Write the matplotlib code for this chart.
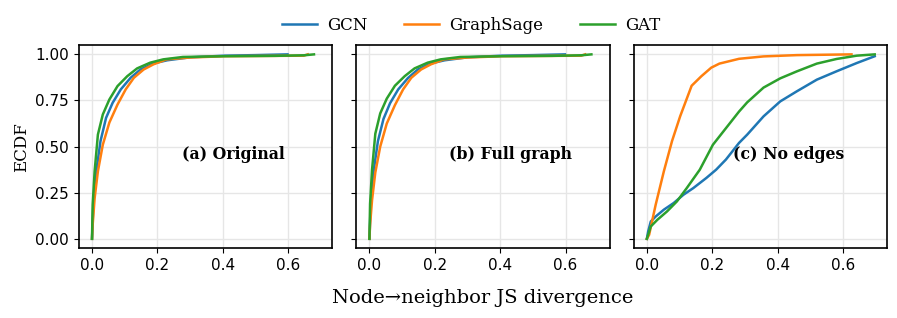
#!/usr/bin/env python3

import matplotlib
matplotlib.use("Agg")
import matplotlib.pyplot as plt
import numpy as np

MODELS = ["GCN", "GraphSage", "GAT"]
COLORS = ["#1f77b4", "#ff7f0e", "#2ca02c"]
PANELS = ["(a) Original", "(b) Full graph", "(c) No edges"]

# ECDF points: (JS divergence, cumulative fraction)
orig_gcn_x = [0.0, 0.004, 0.013, 0.026, 0.043, 0.063, 0.088, 0.118, 0.148, 0.188, 0.23, 0.3, 0.406, 0.5, 0.598]
orig_gcn_y = [0.0, 0.185, 0.366, 0.53, 0.656, 0.737, 0.81, 0.873, 0.918, 0.951, 0.968, 0.984, 0.993, 0.996, 1.0]
orig_sage_x = [0.0, 0.002, 0.008, 0.018, 0.033, 0.053, 0.078, 0.103, 0.128, 0.158, 0.188, 0.228, 0.3, 0.406, 0.648, 0.66]
orig_sage_y = [0.0, 0.076, 0.22, 0.366, 0.51, 0.63, 0.728, 0.81, 0.873, 0.918, 0.946, 0.973, 0.983, 0.99, 0.993, 1.0]
orig_gat_x = [0.0, 0.002, 0.008, 0.018, 0.033, 0.053, 0.078, 0.108, 0.138, 0.178, 0.218, 0.278, 0.406, 0.558, 0.648, 0.679]
orig_gat_y = [0.0, 0.185, 0.366, 0.565, 0.674, 0.755, 0.828, 0.882, 0.924, 0.955, 0.973, 0.986, 0.99, 0.992, 0.995, 1.0]

full_gcn_x = [0.0, 0.004, 0.013, 0.026, 0.043, 0.063, 0.088, 0.118, 0.148, 0.188, 0.23, 0.3, 0.406, 0.5, 0.598]
full_gcn_y = [0.0, 0.19, 0.37, 0.53, 0.65, 0.735, 0.81, 0.872, 0.918, 0.951, 0.968, 0.984, 0.993, 0.996, 1.0]
full_sage_x = [0.0, 0.002, 0.008, 0.018, 0.033, 0.053, 0.078, 0.103, 0.128, 0.158, 0.188, 0.228, 0.3, 0.406, 0.648, 0.66]
full_sage_y = [0.0, 0.076, 0.21, 0.36, 0.50, 0.625, 0.725, 0.81, 0.873, 0.918, 0.946, 0.973, 0.983, 0.99, 0.993, 1.0]
full_gat_x = [0.0, 0.002, 0.008, 0.018, 0.033, 0.053, 0.078, 0.108, 0.138, 0.178, 0.218, 0.278, 0.406, 0.558, 0.648, 0.679]
full_gat_y = [0.0, 0.19, 0.375, 0.57, 0.68, 0.76, 0.83, 0.882, 0.924, 0.955, 0.973, 0.986, 0.99, 0.992, 0.995, 1.0]

noedge_gcn_x = [0.0, 0.004, 0.012, 0.027, 0.052, 0.082, 0.112, 0.142, 0.182, 0.212, 0.242, 0.282, 0.307, 0.357, 0.408,
                0.459, 0.52, 0.58, 0.642, 0.697]
noedge_gcn_y = [0.0, 0.04, 0.094, 0.121, 0.158, 0.194, 0.239, 0.275, 0.33, 0.375, 0.43, 0.52, 0.565, 0.664, 0.745,
                0.80, 0.863, 0.908, 0.953, 0.99]
noedge_sage_x = [0.0, 0.007, 0.027, 0.052, 0.077, 0.102, 0.137, 0.167, 0.197, 0.222, 0.282, 0.357, 0.459, 0.626]
noedge_sage_y = [0.0, 0.022, 0.185, 0.366, 0.53, 0.665, 0.83, 0.882, 0.928, 0.95, 0.976, 0.989, 0.996, 1.0]
noedge_gat_x = [0.0, 0.012, 0.032, 0.062, 0.092, 0.122, 0.162, 0.202, 0.242, 0.282, 0.307, 0.357, 0.408, 0.459,
                0.52, 0.58, 0.642, 0.697]
noedge_gat_y = [0.0, 0.067, 0.103, 0.149, 0.203, 0.275, 0.375, 0.51, 0.60, 0.69, 0.74, 0.82, 0.87, 0.908,
                0.95, 0.975, 0.993, 1.0]

panel_data = [
    [(orig_gcn_x, orig_gcn_y), (orig_sage_x, orig_sage_y), (orig_gat_x, orig_gat_y)],
    [(full_gcn_x, full_gcn_y), (full_sage_x, full_sage_y), (full_gat_x, full_gat_y)],
    [(noedge_gcn_x, noedge_gcn_y), (noedge_sage_x, noedge_sage_y), (noedge_gat_x, noedge_gat_y)],
]

plt.rcParams["font.family"] = "DejaVu Serif"

fig, axes = plt.subplots(1, 3, figsize=(8.97, 3.18), dpi=100, sharex=True, sharey=True)
fig.subplots_adjust(left=0.088, right=0.989, top=0.858, bottom=0.22, wspace=0.095)

for ax, curves, label in zip(axes, panel_data, PANELS):
    for (x, y), name, color in zip(curves, MODELS, COLORS):
        ax.plot(x, y, color=color, linewidth=1.8, label=name)
    ax.grid(True, color="#e6e6e6", linewidth=1.0)
    ax.set_axisbelow(True)
    ax.text(0.61, 0.46, label, transform=ax.transAxes, ha="center", va="center",
            fontsize=11.3, fontweight="bold")
    for s in ax.spines.values():
        s.set_linewidth(1.2)
    ax.tick_params(labelsize=11)
    for t in ax.get_xticklabels() + ax.get_yticklabels():
        t.set_family("DejaVu Sans")

axes[0].set_xlim(-0.04, 0.735)
axes[0].set_ylim(-0.05, 1.05)
axes[0].set_xticks([0.0, 0.2, 0.4, 0.6])
axes[0].set_yticks([0.0, 0.25, 0.5, 0.75, 1.0])
axes[0].set_ylabel("ECDF", fontsize=12)
fig.supxlabel("Node\u2192neighbor JS divergence", x=0.538, y=0.035, fontsize=14)

handles, labels = axes[0].get_legend_handles_labels()
fig.legend(handles, labels, loc="upper center", bbox_to_anchor=(0.525, 0.995), ncol=3,
           frameon=False, handlelength=2.1, handletextpad=0.6, columnspacing=2.2,
           prop={"family": "DejaVu Serif", "size": 12})

fig.savefig("out.png", dpi=100)
